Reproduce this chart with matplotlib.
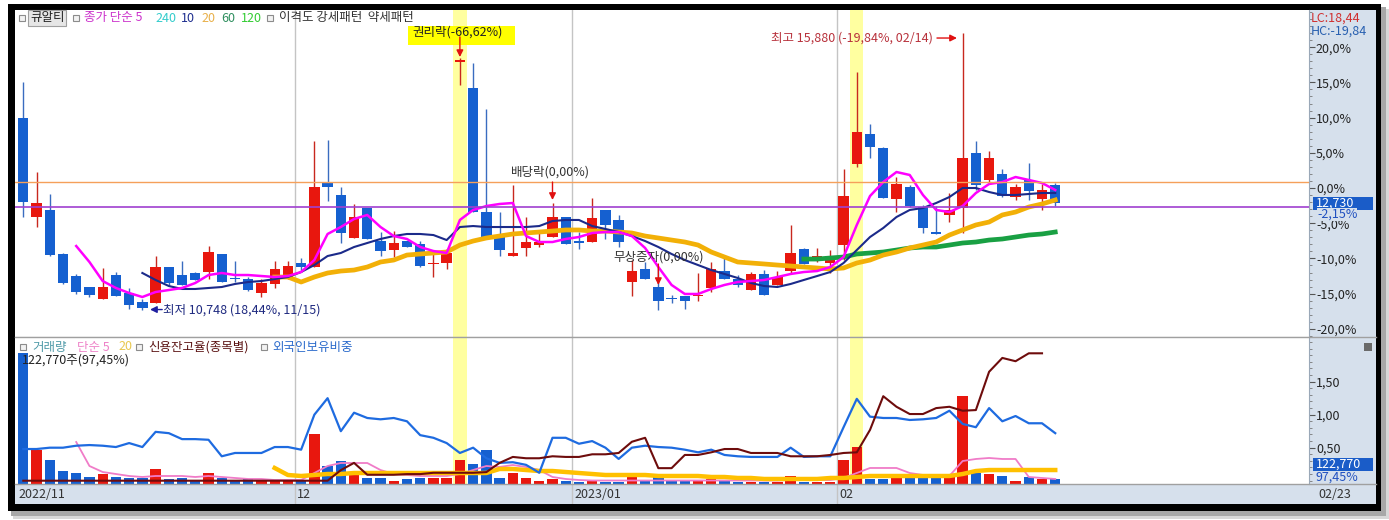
import numpy as np
import matplotlib
matplotlib.use('Agg')
import matplotlib.pyplot as plt
from matplotlib.patches import Rectangle
from matplotlib.lines import Line2D
from matplotlib.ticker import FuncFormatter, MultipleLocator

plt.rcParams['font.family'] = ['Noto Sans CJK KR', 'DejaVu Sans']

W, H = 1389, 520

# daily candles 2022/11/02 .. 2023/02, values in % of the right-hand scale
opens = [9.99, -4.08, -3.13, -9.42, -12.50, -14.02, -15.77, -12.36, -14.96, -16.15,
         -16.38, -11.18, -12.36, -12.12, -11.89, -9.42, -12.83, -12.93, -14.96, -13.64,
         -12.60, -10.70, -11.18, 0.67, -0.99, -7.14, -2.88, -7.49, -8.81, -7.49,
         -8.00, -10.84, -10.61, 17.95, 14.16, -3.37, -6.82, -9.62, -8.48, -8.10,
         -6.92, -4.16, -7.67, -7.63, -3.13, -4.55, -13.39, -11.51, -14.11, -15.70,
         -15.34, -15.34, -14.16, -11.79, -12.97, -14.49, -12.22, -13.78, -11.79, -8.66,
         -9.90, -10.61, -8.10, 3.41, 7.67, 5.64, -1.56, 0.10, -2.66, -6.35,
         -3.84, -2.88, 4.93, 1.14, 1.95, -1.24, 1.14, -1.56, 0.38]
highs = [15.10, 2.32, -0.89, -9.23, -12.22, -14.02, -11.41, -11.89, -14.25, -15.81,
         -9.62, -11.18, -10.37, -11.89, -8.20, -9.42, -10.37, -12.60, -12.93, -10.37,
         -10.37, -9.90, 6.68, 6.82, 0.10, -2.27, -2.88, -6.21, -6.07, -7.49,
         -7.53, -9.19, -8.71, 18.40, 17.76, 11.18, -3.37, 0.43, -4.16, -6.35,
         -2.17, -4.16, -6.21, -1.46, -3.13, -3.84, -10.23, -10.47, -11.18, -15.20,
         -15.34, -12.12, -10.47, -9.76, -12.36, -11.89, -11.65, -11.75, -5.26, -8.48,
         -8.57, -8.81, 2.66, 16.48, 9.05, 5.87, 1.61, 0.43, -2.41, -2.56,
         -0.75, 22.06, 6.68, 5.30, 2.70, 0.57, 3.51, 0.57, 0.67]
lows = [-4.08, -5.50, -9.62, -13.64, -15.06, -15.53, -15.77, -15.30, -17.23, -17.39,
        -16.38, -13.78, -13.78, -13.07, -12.93, -13.31, -13.31, -14.59, -15.53, -14.25,
        -12.93, -11.89, -11.18, -1.80, -7.77, -7.14, -7.29, -9.66, -9.76, -8.34,
        -11.26, -12.68, -11.55, 14.63, -3.37, -7.29, -9.66, -9.62, -9.66, -8.34,
        -6.92, -8.00, -8.71, -7.63, -7.29, -8.34, -15.34, -12.97, -17.30, -16.38,
        -17.23, -16.01, -14.73, -12.97, -14.02, -14.49, -15.20, -13.78, -12.26, -10.84,
        -10.47, -12.03, -10.23, 2.94, 4.30, -1.46, -3.37, -2.66, -6.35, -6.53,
        -4.79, -6.35, -0.28, 0.89, -1.32, -1.70, -1.70, -3.13, -2.56]
closes = [-1.95, -2.09, -9.52, -13.45, -14.82, -15.20, -14.02, -15.30, -16.62, -17.09,
          -11.18, -13.54, -13.78, -13.07, -9.05, -13.31, -12.97, -14.49, -13.54, -11.51,
          -11.04, -11.18, 0.10, 0.10, -6.43, -4.08, -7.29, -8.91, -7.77, -8.34,
          -11.08, -10.70, -9.19, 18.18, -3.37, -7.29, -8.81, -9.19, -7.63, -7.63,
          -4.16, -8.00, -7.76, -4.22, -5.26, -7.63, -11.79, -12.97, -16.05, -15.77,
          -16.01, -15.20, -11.55, -12.97, -13.78, -12.22, -15.20, -12.68, -9.19, -10.84,
          -9.76, -9.66, -1.14, 8.00, 5.87, -1.46, 0.57, -2.56, -5.72, -6.49,
          -3.13, 4.30, 0.43, 4.30, -1.14, 0.18, -0.43, -0.28, -2.15]

ma5 = [None] * 4 + [
    -8.24, -10.51, -13.21, -14.20, -14.91, -15.48, -14.77, -14.49, -14.20, -13.49,
    -12.36, -12.07, -12.36, -12.36, -12.50, -12.64, -12.50, -11.93, -10.23, -6.53,
    -5.54, -4.40, -3.83, -5.54, -6.82, -7.24, -8.38, -8.95, -9.23, -4.54,
    -3.12, -2.56, -2.27, -2.13, -6.82, -7.67, -7.67, -7.24, -6.96, -6.39,
    -6.25, -6.25, -6.82, -8.52, -11.22, -13.77, -15.05, -15.05, -14.34, -13.77,
    -13.35, -13.21, -13.06, -12.64, -12.21, -11.93, -11.79, -11.22, -9.80, -5.25,
    -1.14, 0.85, 2.27, 1.85, -0.99, -3.12, -3.41, -2.56, -0.71, 0.57,
    0.85, 1.56, 1.14, 0.71, -0.28]
ma10 = [None] * 9 + [
    -12.07,
    -13.06, -13.92, -14.34, -14.34, -14.20, -14.06, -13.63, -13.35, -13.21, -12.93,
    -12.64, -11.93, -10.94, -9.66, -9.23, -8.38, -7.81, -7.24, -6.82, -6.53,
    -6.53, -6.68, -7.39, -5.54, -5.40, -5.54, -5.54, -5.54, -5.54, -5.40,
    -4.69, -4.54, -4.54, -5.40, -5.82, -6.25, -6.82, -7.53, -8.38, -9.37,
    -10.23, -10.94, -11.65, -12.21, -12.78, -13.49, -13.92, -14.06, -13.63, -13.06,
    -12.50, -11.93, -10.65, -8.81, -6.96, -5.68, -4.12, -3.12, -2.84, -2.13,
    -1.28, 0.00, 0.00, -0.57, -0.99, -0.99, -0.85, -0.71, -0.71]
ma20 = [None] * 19 + [
    -12.64,
    -12.64, -13.35, -12.64, -12.07, -11.79, -11.65, -11.22, -10.51, -10.23, -9.52,
    -9.37, -9.23, -9.09, -8.10, -7.53, -7.10, -6.82, -6.53, -6.39, -6.25,
    -6.11, -5.96, -5.96, -6.11, -6.11, -6.25, -6.39, -6.82, -7.10, -7.39,
    -7.67, -8.10, -9.09, -9.80, -10.51, -10.65, -10.79, -10.94, -11.08, -11.22,
    -11.36, -11.50, -11.36, -10.65, -10.23, -9.52, -9.09, -8.52, -8.10, -7.67,
    -6.68, -5.96, -5.25, -4.83, -3.83, -3.41, -2.70, -2.27, -1.70]
ma60 = [None] * 59 + [
    -10.09, -10.09, -9.94, -9.80, -9.37, -9.23, -9.09, -8.81, -8.52, -8.38,
    -8.38, -8.10, -7.81, -7.67, -7.39, -7.24, -6.96, -6.68, -6.53, -6.25]

ref_line = 0.89      # orange reference line (%)
last_line = -2.66    # purple line (%)

# volume, thousand shares
volume = [3427, 887, 626, 347, 279, 175, 261, 191, 149, 149,
          384, 123, 149, 104, 279, 149, 104, 123, 104, 104,
          86, 86, 1297, 470, 600, 235, 149, 149, 86, 131,
          149, 149, 149, 626, 514, 887, 164, 279, 149, 86,
          131, 86, 60, 78, 60, 60, 175, 86, 175, 86,
          78, 104, 123, 86, 60, 60, 44, 60, 217, 60,
          60, 60, 626, 958, 123, 131, 164, 149, 149, 149,
          191, 2305, 279, 261, 209, 86, 175, 126, 122.77]
vol_ma5 = [None] * 4 + [
    1096, 470, 313, 261, 209, 183, 209, 209, 209, 183,
    209, 183, 157, 131, 131, 104, 104, 104, 287, 470,
    548, 548, 548, 365, 261, 235, 209, 209, 209, 261,
    365, 470, 444, 496, 444, 365, 183, 131, 104] + [91] * 15 + [
    104, 104, 104, 104, 157, 287, 418, 418, 418, 287,
    235, 235, 209, 600, 653, 679, 653, 653, 183, 157, 131]
vol_ma20 = [None] * 19 + [418, 235, 209, 235, 261, 261] + [287] * 11 + [
    392, 392, 365, 339, 339, 313, 287, 261] + [235] * 4 + [209] * 4 + [
    183, 183, 157, 157] + [131] * 5 + [157, 157, 183] + [209] * 7 + [
    261, 339] + [365] * 6

# foreign ownership and credit balance ratio (%)
foreign = [0.48, 0.48, 0.50, 0.50, 0.53, 0.54, 0.53, 0.51, 0.57, 0.51,
           0.74, 0.72, 0.63, 0.63, 0.62, 0.37, 0.42, 0.42, 0.42, 0.51,
           0.51, 0.47, 1.00, 1.25, 0.75, 1.03, 0.95, 0.93, 0.95, 0.90,
           0.69, 0.65, 0.57, 0.42, 0.50, 0.34, 0.27, 0.28, 0.24, 0.12,
           0.65, 0.65, 0.56, 0.60, 0.50, 0.33, 0.50, 0.53, 0.51, 0.50,
           0.47, 0.43, 0.47, 0.39, 0.37, 0.36, 0.36, 0.36, 0.50, 0.36,
           0.37, 0.37, 0.81, 1.24, 0.97, 0.95, 0.95, 0.92, 0.93, 0.95,
           1.06, 0.86, 0.81, 1.10, 0.90, 0.98, 0.87, 0.87, 0.72]
credit = [0.0] * 24 + [
    0.16, 0.27, 0.09, 0.09, 0.09, 0.10, 0.10, 0.12, 0.12, 0.12,
    0.12, 0.13, 0.27, 0.36, 0.34, 0.34, 0.37, 0.36, 0.36, 0.40,
    0.40, 0.42, 0.59, 0.65, 0.19, 0.19, 0.39, 0.39, 0.43, 0.48,
    0.48, 0.42, 0.42, 0.42, 0.37, 0.37, 0.37, 0.39, 0.42, 0.43,
    0.77, 1.28, 1.12, 1.01, 1.01, 1.10, 1.12, 1.06, 1.07, 1.65,
    1.86, 1.81, 1.93, 1.93, None]

month_breaks = [20.5, 41.5, 61.5]
month_labels = ['2022/11', '12', '2023/01', '02']
highlight_days = [33, 63]

UP, DOWN = '#e8170e', '#1560d0'
UP_WICK, DOWN_WICK = '#c8281e', '#3a6cc0'
PANEL = '#d6e0ec'
GRID = '#c4c4c4'


def frect(x1, y1, x2, y2, **kw):
    r = Rectangle((x1 / W, 1 - y2 / H), (x2 - x1) / W, (y2 - y1) / H,
                  transform=fig.transFigure, **kw)
    fig.add_artist(r)
    return r


def put(x, y, s, **kw):
    kw.setdefault('fontsize', 9)
    kw.setdefault('zorder', 6)
    return fig.text(x / W, 1 - y / H, s, va='center', ha=kw.pop('ha', 'left'), **kw)


def hline(y, x1, x2, **kw):
    fig.add_artist(Line2D([x1 / W, x2 / W], [1 - y / H, 1 - y / H],
                          transform=fig.transFigure, **kw))


fig = plt.figure(figsize=(W / 100, H / 100), dpi=100)
fig.patch.set_facecolor('white')

# window frame with a soft shadow
frect(13, 9, 1389, 519, fc='#d8d8d8', lw=0, zorder=-8)
frect(11, 7, 1386, 516, fc='#a8a8a8', lw=0, zorder=-7)
frect(8, 4, 1381, 511, fc='black', lw=0, zorder=-6)
frect(15, 10, 1376, 504, fc=PANEL, lw=0, zorder=-5)

XL = (-0.627, 97.18)
ax_p = fig.add_axes([15 / W, 1 - 337 / H, 1294 / W, 327 / H])
ax_v = fig.add_axes([15 / W, 1 - 484 / H, 1294 / W, 147 / H])
ax_d = fig.add_axes([15 / W, 1 - 504 / H, 1294 / W, 20 / H])

x = np.arange(len(closes))
o, c = np.array(opens), np.array(closes)
hi, lo = np.array(highs), np.array(lows)
up = c >= o

# ---- price pane
ax_p.set_facecolor('white')
ax_p.set_xlim(*XL)
ax_p.set_ylim(-21.16, 25.28)
for d in highlight_days:
    ax_p.axvspan(d - 0.5, d + 0.5, color='#ffffa0', lw=0, zorder=0)
    ax_v.axvspan(d - 0.5, d + 0.5, color='#ffffa0', lw=0, zorder=0)
for m in month_breaks:
    for ax in (ax_p, ax_v, ax_d):
        ax.axvline(m, color=GRID, lw=1, zorder=0.5)

ax_p.vlines(x, lo, hi, colors=np.where(up, UP_WICK, DOWN_WICK), lw=1, zorder=2)
ax_p.bar(x, np.maximum(np.abs(c - o), 0.2), bottom=np.minimum(o, c), width=0.78,
         color=np.where(up, UP, DOWN), lw=0, zorder=3)

ax_p.plot(x, np.array(ma60, dtype=float), color='#19a043', lw=3.4, zorder=4)
ax_p.plot(x, np.array(ma20, dtype=float), color='#f2b007', lw=3.4, zorder=4)
ax_p.plot(x, np.array(ma10, dtype=float), color='#1b2a8a', lw=1.5, zorder=5)
ax_p.plot(x, np.array(ma5, dtype=float), color='#ff00ff', lw=1.8, zorder=5)
ax_p.axhline(ref_line, color='#f5a05a', lw=1, zorder=6)
ax_p.axhline(last_line, color='#a040d0', lw=1.2, zorder=6)

ax_p.yaxis.tick_right()
ax_p.set_yticks(np.arange(-20, 21, 5))
ax_p.yaxis.set_minor_locator(MultipleLocator(1))
ax_p.yaxis.set_major_formatter(FuncFormatter(lambda v, p: f'{v:.1f}%'.replace('.', ',')))
ax_p.tick_params(axis='y', which='major', length=4, width=0.8, color='#555555',
                 labelsize=9, labelcolor='#222222', pad=1)
ax_p.tick_params(axis='y', which='minor', length=2, width=0.6, color='#777777')
ax_p.set_xticks([])
for s in ('left', 'top'):
    ax_p.spines[s].set_visible(False)
ax_p.spines['right'].set_color('#9aa8b8')
ax_p.spines['bottom'].set_color('#a0a0a0')

# event markers
ax_p.add_patch(Rectangle((29.08, 20.31), 8.09, 2.7, fc='#ffff00', lw=0, zorder=7))
ax_p.text(29.38, 22.16, '권리락(-66,62%)', fontsize=9, color='#222222', va='center', zorder=8)
arrow = dict(arrowstyle='-|>', color='#e01010', lw=1, mutation_scale=10, shrinkA=0, shrinkB=0)
ax_p.annotate('', xy=(33, 18.6), xytext=(33, 21.45), arrowprops=arrow, zorder=9)
ax_p.text(39.85, 2.2, '배당락(0,00%)', fontsize=9, color='#333333', ha='center', va='center', zorder=8)
ax_p.annotate('', xy=(40, -1.7), xytext=(40, 0.85), arrowprops=arrow, zorder=9)
ax_p.text(48.0, -9.87, '무상증자(0,00%)', fontsize=9, color='#333333', ha='center', va='center', zorder=8)
ax_p.annotate('', xy=(48, -13.78), xytext=(48, -10.8), arrowprops=arrow, zorder=9)

ax_p.text(68.76, 21.3, '최고 15,880 (-19,84%, 02/14)', fontsize=9, color='#b8323c',
          ha='right', va='center', zorder=8)
ax_p.annotate('', xy=(70.57, 21.3), xytext=(69.06, 21.3), arrowprops=arrow, zorder=9)
ax_p.text(10.56, -17.26, '최저 10,748 (18,44%, 11/15)', fontsize=9, color='#1f2a80',
          ha='left', va='center', zorder=8)
ax_p.annotate('', xy=(9.58, -17.26), xytext=(10.5, -17.26), zorder=9,
              arrowprops=dict(arrowstyle='-|>', color='#1f1fa0', lw=1, mutation_scale=10,
                              shrinkA=0, shrinkB=0))

# ---- volume pane
ax_v.set_facecolor('white')
ax_v.set_xlim(*XL)
ax_v.set_ylim(0, 3837)
ax_v.bar(x, volume, width=0.78, color=np.where(up, UP, DOWN), lw=0, zorder=2)
ax_v.plot(x, np.array(vol_ma5, dtype=float), color='#f07cc8', lw=1.3, zorder=3)
ax_v.plot(x, np.array(vol_ma20, dtype=float), color='#ffc000', lw=3.2, zorder=3)
ax_v.set_xticks([])
ax_v.set_yticks([])
for s in ax_v.spines.values():
    s.set_visible(False)

ax_l = ax_v.twinx()
ax_l.set_xlim(*XL)
ax_l.set_ylim(-0.05, 2.177)
ax_l.plot(x, np.array(foreign, dtype=float), color='#1e6be0', lw=1.6, zorder=4)
ax_l.plot(x, np.array(credit, dtype=float), color='#6e0c0c', lw=1.5, zorder=4)
ax_l.set_yticks([0.5, 1.0, 1.5])
ax_l.yaxis.set_minor_locator(MultipleLocator(0.1))
ax_l.yaxis.set_major_formatter(FuncFormatter(lambda v, p: f'{v:.2f}'.replace('.', ',')))
ax_l.tick_params(axis='y', which='major', length=4, width=0.8, color='#555555',
                 labelsize=9, labelcolor='#222222', pad=1)
ax_l.tick_params(axis='y', which='minor', length=2, width=0.6, color='#777777')
for s in ('left', 'top', 'bottom'):
    ax_l.spines[s].set_visible(False)
ax_l.spines['right'].set_color('#9aa8b8')

# ---- date strip
ax_d.set_facecolor(PANEL)
ax_d.set_xlim(*XL)
ax_d.set_ylim(0, 1)
ax_d.set_xticks([])
ax_d.set_yticks([])
for s in ax_d.spines.values():
    s.set_visible(False)
for pos, lab in zip([-0.4] + [m + 0.15 for m in month_breaks], month_labels):
    ax_d.text(pos, 0.45, lab, fontsize=9, color='#333333', va='center', ha='left')

hline(337, 15, 1376, color='#a0a0a0', lw=1, zorder=5)
hline(484, 15, 1376, color='#a0a0a0', lw=1, zorder=5)

# ---- legends / headers
def box(x1, y1):
    frect(x1, y1, x1 + 6, y1 + 6, fc='#f2f2f2', ec='#8c8c8c', lw=0.8, zorder=6)

box(19, 15)
put(30, 18, '큐알티', color='#222222',
    bbox=dict(boxstyle='square,pad=0.15', fc='#e6e6e6', ec='#a0a0a0', lw=0.8))
box(73, 15)
put(84, 18, '종가 단순 5', color='#cc33cc')
put(155, 18, '240', color='#33cccc')
put(181, 18, '10', color='#1f2f8f')
put(201, 18, '20', color='#e8b04a')
put(221, 18, '60', color='#2f8f5f')
put(241, 18, '120', color='#33cc33')
box(267, 15)
put(279, 18, '이격도 강세패턴  약세패턴', color='#333333')

box(20, 344)
put(32, 347, '거래량', color='#4f9aa8')
put(77, 347, '단순 5', color='#ee82c8')
put(118, 347, '20', color='#e8c850')
box(136, 344)
put(148, 347, '신용잔고율(종목별)', color='#5c1414')
box(261, 344)
put(272, 347, '외국인보유비중', color='#2a6acb')
put(22, 360, '122,770주(97,45%)', color='#222222')

# right axis extras
put(1311, 18, 'LC:18,44', color='#d03030')
put(1311, 31, 'HC:-19,84', color='#2860b0')
frect(1313, 197, 1373, 210, fc='#1a5cc8', lw=0, zorder=6)
put(1316, 203.5, '12,730', color='white', zorder=7)
put(1317, 214, '-2,15%', color='#2050c0', zorder=7,
    bbox=dict(boxstyle='square,pad=0', fc=PANEL, ec='none'))
frect(1364, 343, 1372, 351, fc='#6a6a6a', lw=0, zorder=6)
frect(1313, 458, 1373, 471, fc='#1a5cc8', lw=0, zorder=6)
put(1316, 464.5, '122,770', color='white', zorder=7)
put(1316, 477.5, '97,45%', color='#2050c0', zorder=7)
put(1318, 494, '02/23', color='#333333')

fig.savefig('out.png', dpi=100)
